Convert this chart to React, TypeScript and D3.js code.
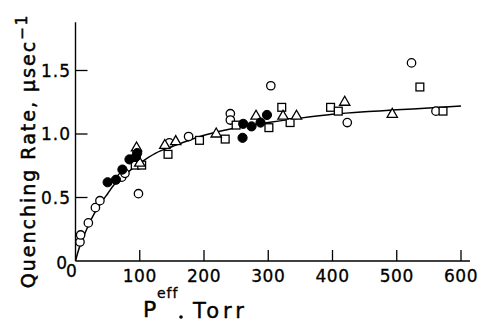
import React from "react";
import * as d3 from "d3";

const xTicks = [100, 200, 300, 400, 500, 600];
const yTicks = [0.5, 1.0, 1.5];
const yTickLabels = ["0.5", "1.0", "1.5"];

const openCircles: [number, number][] = [
  [7, 0.15], [8, 0.205], [20, 0.3], [31, 0.42], [38, 0.475], [72, 0.66], [77, 0.69],
  [98, 0.53], [146, 0.93], [176, 0.98], [241, 1.16], [241, 1.11], [304, 1.38],
  [423, 1.09], [523, 1.56], [561, 1.18],
];
const filledCircles: [number, number][] = [
  [50, 0.62], [63, 0.64], [73, 0.72], [84, 0.8], [94, 0.82], [96, 0.85],
  [260, 0.97], [261, 1.08], [274, 1.06], [288, 1.09], [298, 1.15],
];
const triangles: [number, number][] = [
  [95, 0.89], [100, 0.77], [139, 0.91], [156, 0.94], [219, 1.0], [281, 1.14],
  [323, 1.14], [344, 1.14], [419, 1.25], [493, 1.155],
];
const squares: [number, number][] = [
  [93, 0.755], [103, 0.755], [144, 0.84], [193, 0.95], [233, 0.96], [250, 1.07],
  [301, 1.05], [321, 1.21], [334, 1.09], [397, 1.21], [409, 1.18], [536, 1.37], [572, 1.18],
];
const fitCurve: [number, number][] = [
  [0, 0], [5, 0.09], [10, 0.16], [20, 0.28], [30, 0.38], [40, 0.46], [50, 0.53],
  [60, 0.6], [75, 0.67], [100, 0.77], [125, 0.85], [150, 0.9], [200, 0.99],
  [250, 1.05], [300, 1.09], [350, 1.125], [400, 1.155], [450, 1.175], [500, 1.19],
  [550, 1.205], [600, 1.22],
];

const W = 486;
const H = 322;
const FONT = "'DejaVu Sans', sans-serif";

export default function App() {
  const x = d3.scaleLinear().domain([0, 600]).range([75.5, 461]);
  const y = d3.scaleLinear().domain([0, 1.5]).range([261, 70.5]);
  const x0 = x(0);
  const y0 = y(0);
  const xEnd = x(614);
  const yTop = y(1.88);

  const line = d3
    .line<[number, number]>()
    .x((d) => x(d[0]))
    .y((d) => y(d[1]))
    .curve(d3.curveMonotoneX);

  const tri = d3.symbol().type(d3.symbolTriangle).size(46)();

  return (
    <svg
      width={W}
      height={H}
      style={{ position: "absolute", left: 0, top: 0, background: "#fff" }}
      fontFamily={FONT}
    >
      <rect width={W} height={H} fill="#fff" />
      {/* axes */}
      <line x1={x0} x2={x0} y1={yTop} y2={y0} stroke="#000" strokeWidth={1.4} />
      <line x1={x0} x2={xEnd} y1={y0} y2={y0} stroke="#000" strokeWidth={1.4} />
      {xTicks.map((t) => (
        <g key={"xt" + t}>
          <line x1={x(t)} x2={x(t)} y1={y0} y2={y0 - 11} stroke="#000" strokeWidth={1.3} />
          <text x={x(t)} y={282} fontSize={17} textAnchor="middle" fill="#000" stroke="#000" strokeWidth={0.3} letterSpacing={0.5}>
            {t}
          </text>
        </g>
      ))}
      <text x={x0 - 4} y={277} fontSize={17} textAnchor="middle" fill="#000" stroke="#000" strokeWidth={0.3}>
        0
      </text>
      {yTicks.map((t, i) => (
        <g key={"yt" + t}>
          <line x1={x0} x2={x0 + 12} y1={y(t)} y2={y(t)} stroke="#000" strokeWidth={1.3} />
          <text x={71} y={y(t) + 6} fontSize={17} textAnchor="end" fill="#000" stroke="#000" strokeWidth={0.3} letterSpacing={1}>
            {yTickLabels[i]}
          </text>
        </g>
      ))}
      <text x={67} y={269} fontSize={17} textAnchor="end" fill="#000" stroke="#000" strokeWidth={0.3}>
        0
      </text>

      {/* fit curve */}
      <path d={line(fitCurve) || ""} fill="none" stroke="#000" strokeWidth={1.5} />

      {/* markers */}
      {openCircles.map((d, i) => (
        <circle key={"oc" + i} cx={x(d[0])} cy={y(d[1])} r={4.2} fill="#fff" stroke="#000" strokeWidth={1.3} />
      ))}
      {squares.map((d, i) => (
        <rect key={"sq" + i} x={x(d[0]) - 3.9} y={y(d[1]) - 3.9} width={7.8} height={7.8} fill="#fff" stroke="#000" strokeWidth={1.3} />
      ))}
      {triangles.map((d, i) => (
        <path key={"tr" + i} d={tri || ""} transform={`translate(${x(d[0])},${y(d[1])})`} fill="#fff" stroke="#000" strokeWidth={1.3} />
      ))}
      {filledCircles.map((d, i) => (
        <circle key={"fc" + i} cx={x(d[0])} cy={y(d[1])} r={4.6} fill="#000" stroke="#000" strokeWidth={1} />
      ))}

      {/* y title */}
      <text
        transform="translate(35,151) rotate(-90)"
        fontSize={19}
        textAnchor="middle"
        fill="#000"
        stroke="#000"
        strokeWidth={0.5}
        letterSpacing={2}
      >
        <tspan>Quenching  Rate,  μsec</tspan>
        <tspan fontSize={15} dy={-8}>−1</tspan>
      </text>

      {/* x title */}
      <text x={143} y={317} fontSize={22} fill="#000" stroke="#000" strokeWidth={0.4}>
        P
      </text>
      <text x={157} y={298} fontSize={14} fill="#000" stroke="#000" strokeWidth={0.3} letterSpacing={1}>
        eff
      </text>
      <circle cx={181} cy={317} r={1.8} fill="#000" />
      <text x={193} y={318} fontSize={21} fill="#000" stroke="#000" strokeWidth={0.4} letterSpacing={4}>
        Torr
      </text>
    </svg>
  );
}
